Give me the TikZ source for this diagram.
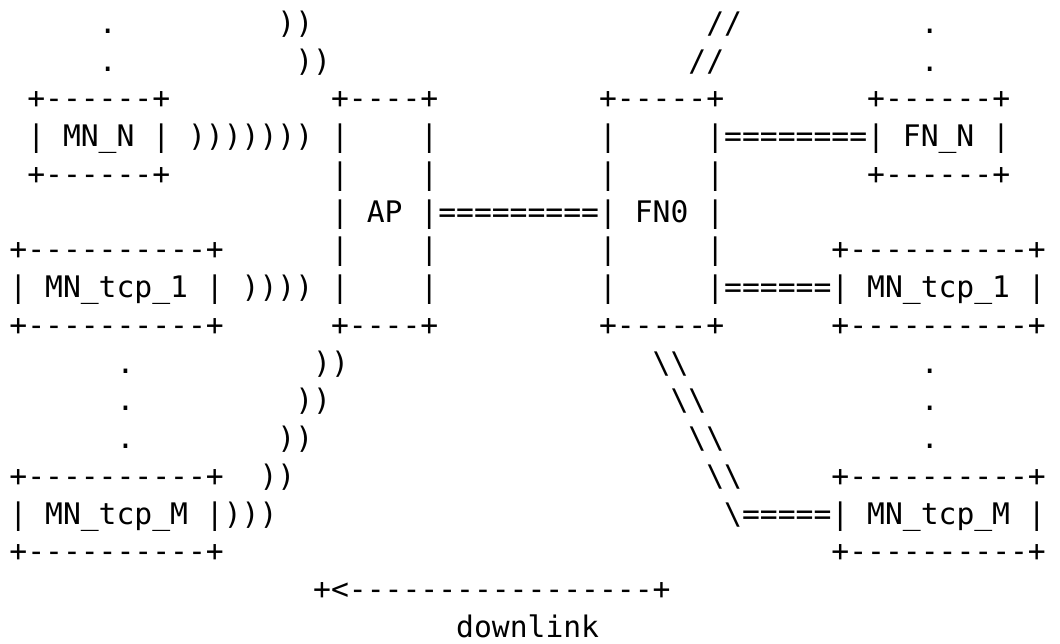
\documentclass[tikz,border=0pt]{standalone}
\usepackage{fontspec}
\setmonofont{DejaVu Sans Mono}

\begin{document}
\begin{tikzpicture}[x = 17.87pt, y = -37.75pt,
        ascii/.style = {anchor = base west, inner sep = 0pt, outer sep = 0pt,
            font = \ttfamily\fontsize{29.68pt}{37.75pt}\selectfont}]
            \useasboundingbox (-0.526,0.118) rectangle (58.79,17.151);
            % dots between the nodes
            \foreach \r in {1,2} {
                \node[ascii] (dotN\r) at (5,\r) {.};
                \node[ascii] (dotF\r) at (51,\r) {.};
            }
            \foreach \r in {10,11,12} {
                \node[ascii] (dotM\r) at (6,\r) {.};
                \node[ascii] (dotT\r) at (51,\r) {.};
            }
            % radio links and wired links
            \foreach \r/\c in {1/15,2/16,10/17,11/16,12/15,13/14}
                \node[ascii] (wave\r) at (\c,\r) {))};
            \foreach \r/\c in {1/39,2/38}
                \node[ascii] (wireUp\r) at (\c,\r) {//};
            \foreach \r/\c in {10/36,11/37,12/38,13/39}
                \node[ascii] (wireDn\r) at (\c,\r) {\textbackslash\textbackslash};
            % mobile nodes on the left
            \node[ascii] (mnNTop) at (1,3) {+------+};
            \node[ascii] (mnN) at (1,4) {|~MN\_N~|};
            \node[ascii] (mnNBot) at (1,5) {+------+};
            \node[ascii] (waveN) at (10,4) {)))))))};
            \node[ascii] (mnOneTop) at (0,7) {+----------+};
            \node[ascii] (mnOne) at (0,8) {|~MN\_tcp\_1~|};
            \node[ascii] (mnOneBot) at (0,9) {+----------+};
            \node[ascii] (waveOne) at (13,8) {))))};
            \node[ascii] (mnMTop) at (0,13) {+----------+};
            \node[ascii] (mnM) at (0,14) {|~MN\_tcp\_M~|)))};
            \node[ascii] (mnMBot) at (0,15) {+----------+};
            % access point and FN0
            \node[ascii] (apTop) at (18,3) {+----+};
            \node[ascii] (fnTop) at (33,3) {+-----+};
            \foreach \r in {4,5,7,8}
                \node[ascii] (apBar\r) at (18,\r) {|~~~~|};
            \foreach \r in {5,7}
                \node[ascii] (fnBar\r) at (33,\r) {|~~~~~|};
            \node[ascii] (ap) at (18,6) {|~AP~|=========|~FN0~|};
            \node[ascii] (apBot) at (18,9) {+----+};
            \node[ascii] (fnBot) at (33,9) {+-----+};
            % nodes on the right
            \node[ascii] (fnN) at (33,4) {|~~~~~|========|~FN\_N~|};
            \node[ascii] (fnNTop) at (48,3) {+------+};
            \node[ascii] (fnNBot) at (48,5) {+------+};
            \node[ascii] (tcpOne) at (33,8) {|~~~~~|======|~MN\_tcp\_1~|};
            \node[ascii] (tcpOneTop) at (46,7) {+----------+};
            \node[ascii] (tcpOneBot) at (46,9) {+----------+};
            \node[ascii] (tcpM) at (40,14) {\textbackslash=====|~MN\_tcp\_M~|};
            \node[ascii] (tcpMTop) at (46,13) {+----------+};
            \node[ascii] (tcpMBot) at (46,15) {+----------+};
            % downlink arrow
            \node[ascii] (arrow) at (17,16) {+<-----------------+};
            \node[ascii] (downlink) at (25,17) {downlink};
        \end{tikzpicture}
\end{document}
